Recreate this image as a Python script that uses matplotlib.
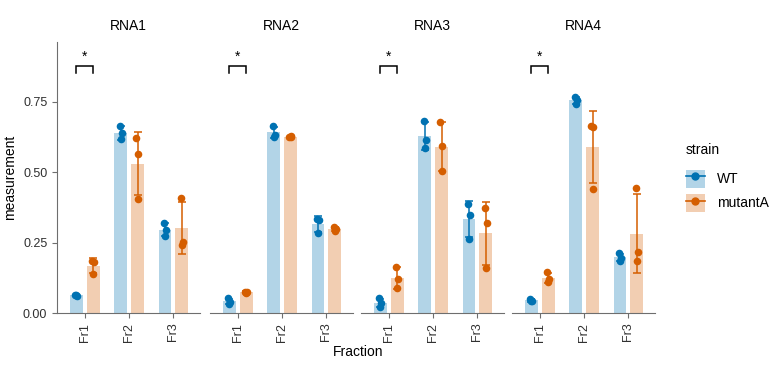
import numpy as np
import matplotlib.pyplot as plt
from matplotlib.patches import Patch
from matplotlib.lines import Line2D

plt.rcParams['font.family'] = ['Liberation Sans', 'DejaVu Sans']

rnas = ['RNA1', 'RNA2', 'RNA3', 'RNA4']
fractions = ['Fr1', 'Fr2', 'Fr3']
strains = ['WT', 'mutantA']

# replicate measurements, [rna][fraction][replicate]
wt_vals = [
    [[0.064, 0.062, 0.065], [0.665, 0.639, 0.617], [0.321, 0.295, 0.274]],
    [[0.052, 0.040, 0.033], [0.665, 0.633, 0.627], [0.333, 0.331, 0.283]],
    [[0.052, 0.034, 0.022], [0.684, 0.615, 0.588], [0.388, 0.350, 0.263]],
    [[0.050, 0.043, 0.041], [0.767, 0.757, 0.743], [0.212, 0.194, 0.186]],
]
mut_vals = [
    [[0.186, 0.182, 0.138], [0.621, 0.564, 0.405], [0.408, 0.253, 0.242]],
    [[0.076, 0.076, 0.070], [0.627, 0.628, 0.626], [0.305, 0.298, 0.293]],
    [[0.165, 0.120, 0.088], [0.677, 0.592, 0.505], [0.374, 0.319, 0.159]],
    [[0.145, 0.120, 0.111], [0.665, 0.662, 0.441], [0.443, 0.216, 0.186]],
]
sig_fraction = 'Fr1'
sig_label = '*'

colors = {'WT': '#0072B2', 'mutantA': '#D55E00'}
grey = '#6e6e6e'
W, H = 775, 371
fig = plt.figure(figsize=(W / 100, H / 100), dpi=100)

lefts = [57, 210, 361, 512]
pw = 143
bottom, top = 313, 42
bw = 0.29
off = 0.19
jit = np.array([-0.025, 0.02, 0.0])

axes = []
for i, rna in enumerate(rnas):
    ax = fig.add_axes([lefts[i] / W, 1 - bottom / H, pw / W, (bottom - top) / H])
    axes.append(ax)
    x = np.arange(len(fractions))
    for s, (strain, vals) in enumerate(zip(strains, [wt_vals[i], mut_vals[i]])):
        arr = np.array(vals)
        means = arr.mean(axis=1)
        sds = arr.std(axis=1, ddof=1)
        xs = x + (-off if s == 0 else off)
        ax.bar(xs, means, width=bw, color=colors[strain], alpha=0.3, lw=0, zorder=1)
        ax.errorbar(xs, means, yerr=sds, fmt='none', ecolor=colors[strain],
                    elinewidth=1.1, capsize=3.2, capthick=1.1, zorder=2)
        for k in range(len(fractions)):
            ax.scatter(xs[k] + jit, arr[k], s=30, color=colors[strain],
                       lw=0, zorder=3)
    # significance bracket
    j = fractions.index(sig_fraction)
    y0, y1 = 0.853, 0.878
    ax.plot([j - off, j - off, j + off, j + off], [y0, y1, y1, y0],
            color='black', lw=1.1, solid_joinstyle='miter', clip_on=False)
    ax.text(j, y1 + 0.008, sig_label, ha='center', va='bottom', fontsize=10)

    ax.set_xlim(-0.63, 2.6)
    ax.set_ylim(0, 0.963)
    ax.set_xticks(x)
    ax.set_xticklabels(fractions, rotation=90, fontsize=9, color='#303030')
    ax.set_yticks([0, 0.25, 0.5, 0.75])
    ax.set_title(rna, fontsize=10, pad=9)
    for sp in ['top', 'right']:
        ax.spines[sp].set_visible(False)
    ax.spines['bottom'].set_color(grey)
    ax.spines['left'].set_color(grey)
    ax.tick_params(colors=grey, length=3.5, width=0.8)
    ax.tick_params(axis='x', labelcolor='#303030')
    if i == 0:
        ax.set_yticklabels(['0.00', '0.25', '0.50', '0.75'], fontsize=9,
                           color='#303030')
        ax.set_ylabel('measurement', fontsize=10)
    else:
        ax.spines['left'].set_visible(False)
        ax.tick_params(axis='y', left=False, labelleft=False)

fig.text(358 / W, 1 - 352 / H, 'Fraction', ha='center', va='center', fontsize=10)

# legend: title drawn separately so the gap below it matches
fig.text(686 / W, 1 - 150 / H, 'strain', ha='left', va='center', fontsize=10)
handles = [(Patch(facecolor=colors[s], alpha=0.3, lw=0),
            Line2D([], [], color=colors[s], marker='o', markersize=5, lw=1.2))
           for s in strains]
fig.legend(handles, strains, loc='upper left',
           bbox_to_anchor=(676 / W, 1 - 160 / H), frameon=False, fontsize=10,
           handlelength=1.37, handleheight=1.6, labelspacing=0.45,
           handletextpad=0.86, borderaxespad=0.3)

fig.savefig('out.png', dpi=100)
